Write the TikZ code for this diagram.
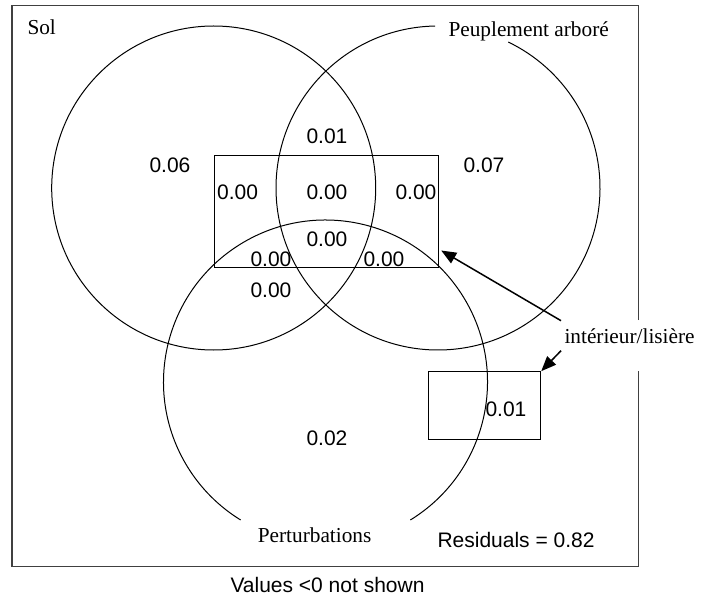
\documentclass[tikz,border=0pt]{standalone}
\usepackage{fontspec}
\setmainfont{Liberation Serif}
\setsansfont{Liberation Sans}
\usetikzlibrary{arrows.meta}

\begin{document}
\begin{tikzpicture}[x=1pt,y=1pt,line width=1pt,
  num/.style={anchor=base west,inner sep=0,font=\sffamily\fontsize{21}{25}\selectfont},
  lbl/.style={anchor=base west,inner sep=0,font=\rmfamily\fontsize{21.3}{25}\selectfont},
  pointer/.style={-{Triangle[length=15pt,width=12pt]},line width=1.5pt}]
\useasboundingbox (0,0) rectangle (709,598);
\draw[line width=1.4pt,black!75] (638.5,278)--(638.5,592.3)--(12,592.3)--(12,31.3)--(638.5,31.3)--(638.5,227.3);
\coordinate (S) at (213.7,410); \coordinate (P) at (438,410); \coordinate (D) at (325.5,216);
\draw (S) circle (162);
\draw (P) ++(91:162) arc[start angle=91,end angle=424.3,radius=162];
\draw (D) ++(-58.4:162) arc[start angle=-58.4,end angle=238.4,radius=162];
\node[draw,inner sep=0,minimum width=224pt,minimum height=111.7pt] (inner) at (326.3,386.15) {};
\node[draw,inner sep=0,minimum width=112.4pt,minimum height=67.3pt] (small) at (484.5,192.65) {};
\node[lbl] (sol) at (27,563.3) {Sol};
\node[lbl] (arbre) at (448,561.3) {Peuplement arboré};
\node[lbl] (pert) at (257.3,55.3) {Perturbations};
\node[lbl,inner xsep=3pt,inner ysep=7pt] (lab) at (561,255) {intérieur/lisière};
\node[num] (s) at (149,425) {0.06};
\node[num] (p) at (463,425) {0.07};
\node[num] (sp) at (306,454) {0.01};
\node[num] (si) at (216.7,398) {0.00};
\node[num] (spi) at (306,398) {0.00};
\node[num] (pi) at (395,398) {0.00};
\node[num] (spdi) at (306,352) {0.00};
\node[num] (sdi) at (250,331) {0.00};
\node[num] (pdi) at (363,331) {0.00};
\node[num] (sd) at (250,301) {0.00};
\node[num] (i) at (485,182) {0.01};
\node[num] (d) at (306,152.3) {0.02};
\node[num] (res) at (437,51) {Residuals = 0.82};
\node[num] (note) at (230,6) {Values <0 not shown};
\draw[pointer] (lab.north west) -- ([shift={(2.4,17.7)}]inner.south east);
\draw[pointer] (lab.south west) -- (small.north east);
\end{tikzpicture}
\end{document}
